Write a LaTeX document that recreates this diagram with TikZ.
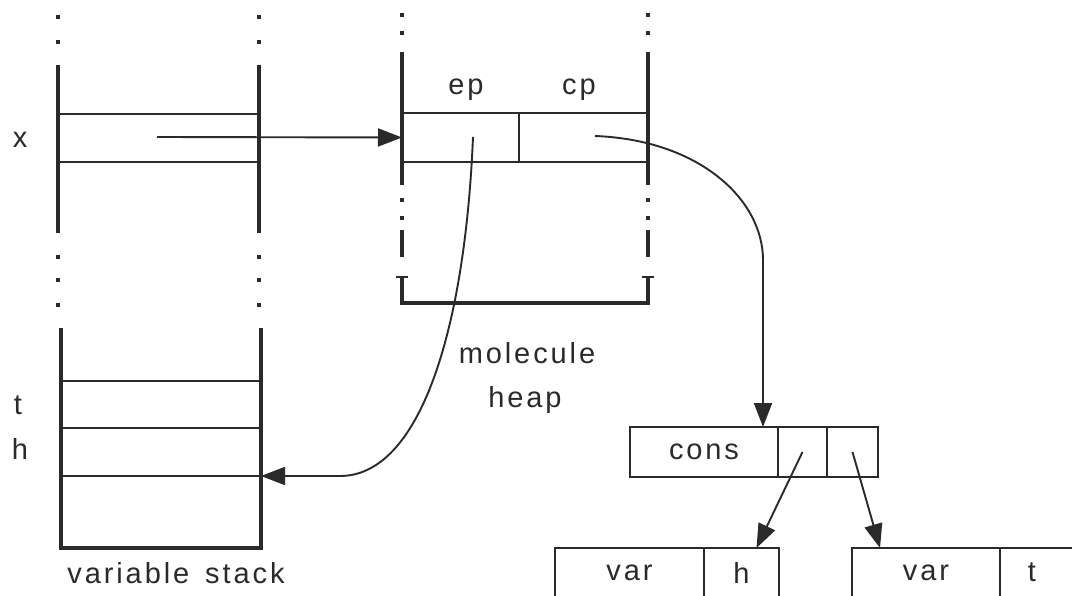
\documentclass[tikz,border=0pt]{standalone}
\usepackage{fontspec}
\setmainfont{Liberation Sans}[LetterSpace=10]
\usetikzlibrary{arrows.meta,calc}
\definecolor{ink}{HTML}{2A2A2A}
\begin{document}
\begin{tikzpicture}[x=1pt,y=-1pt,
  every node/.style={font=\fontsize{29}{33}\selectfont, text=ink},
  wall/.style={line width=3.8pt, draw=ink},
  hwall/.style={line width=3.4pt, draw=ink},
  cell/.style={draw=ink, line width=2.2pt, inner sep=0pt, outer sep=0pt},
  arr/.style={draw=ink, line width=1.9pt, -{Triangle[length=24pt,width=18pt]}},
  dotsq/.style={fill=ink}
]
\useasboundingbox (0,0) rectangle (1072,596);
\clip (0,0) rectangle (1072,596);
\fill[white] (0,0) rectangle (1072,596);

% ---- variable stack, upper part ----
\node[cell, minimum width=201pt, minimum height=48pt] (xcell) at (158.5,138) {};
\draw[wall] (58,65) -- (58,233);
\draw[wall] (259,65) -- (259,233);
\foreach \xx in {58,259}{
  \foreach \yy in {17,42,257,280,305}{
    \fill[dotsq] (\xx-2.4,\yy-2.4) rectangle (\xx+2.4,\yy+2.4);
  }
}
\node at (20,140) {x};

% ---- variable stack, lower part ----
\node[cell, minimum width=200pt, minimum height=47pt] (tcell) at (161,404.5) {};
\node[cell, minimum width=200pt, minimum height=48pt] (shcell) at (161,452) {};
\node[cell, minimum width=200pt, minimum height=72pt] (bcell) at (161,512) {};
\draw[wall] (61,328) -- (61,548) -- (261,548) -- (261,328);
\node at (18,405) {t};
\node at (20,449) {h};
\node at (176,573) {variable\hspace{16pt}stack};

% ---- molecule heap ----
\node[cell, minimum width=117pt, minimum height=49pt] (epcell) at (460.5,137.5) {};
\node[cell, minimum width=129pt, minimum height=49pt] (cpcell) at (583.5,137.5) {};
\draw[hwall] (402,52) -- (402,185);
\draw[hwall] (648,52) -- (648,185);
\foreach \xx in {402,648}{
  \foreach \yy in {15,33,200,218}{
    \fill[dotsq] (\xx-2.2,\yy-2.2) rectangle (\xx+2.2,\yy+2.2);
  }
  \draw[hwall] (\xx,230) -- (\xx,257);
  \draw[draw=ink, line width=1.8pt] (\xx-6,277) -- (\xx+6,277);
}
\draw[hwall] (402,277) -- (402,303) -- (648,303) -- (648,277);
\node at (466,90) {ep};
\node at (579,90) {cp};
\node at (527,353) {molecule};
\node at (525,400) {heap};

% ---- cons cell ----
\node[cell, minimum width=148pt, minimum height=50pt] (conslab) at (704,452) {cons};
\node[cell, minimum width=49pt, minimum height=50pt] (c1) at (802.5,452) {};
\node[cell, minimum width=51pt, minimum height=50pt] (c2) at (852.5,452) {};

% ---- var cells ----
\node[cell, minimum width=149pt, minimum height=49pt] (varh) at (629.5,572.5) {var};
\node[cell, minimum width=75pt, minimum height=49pt] (hval) at (741.5,572.5) {h};
\node[cell, minimum width=148pt, minimum height=49pt] (vart) at (926,572.5) {var};
\node[cell, minimum width=80pt, minimum height=49pt] (tval) at (1040,572.5) {};
\node at (1032,572.5) {t};

% ---- connectors ----
\coordinate (xstart) at (157,137);
\coordinate (epstart) at (473,137);
\coordinate (epbend) at (340,476);
\coordinate (cpstart) at (595,136);
\coordinate (cpbend) at (763,260);

\draw[arr] (xstart) -- (epcell.west);
\draw[arr] (epstart) .. controls (465,330) and (420,476) .. (epbend) -- (shcell.south east);
\draw[arr] (cpstart) .. controls (700,140) and (763,200) .. (cpbend) -- (cpbend |- conslab.north);
\draw[arr] (c1.center) -- ($(hval.north)+(15,0)$);
\draw[arr] (c2.center) -- ($(vart.north west)+(28,0)$);
\end{tikzpicture}
\end{document}
